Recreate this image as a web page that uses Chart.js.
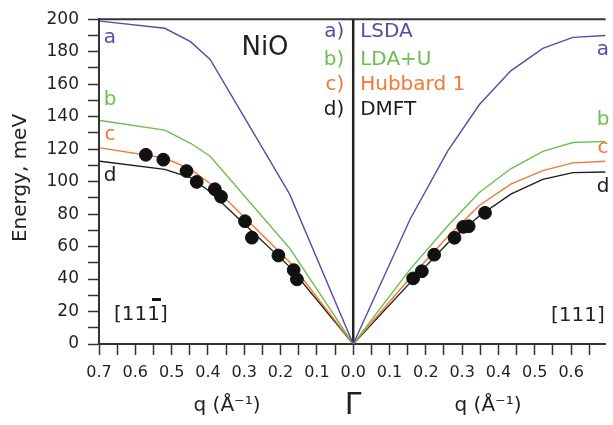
<!DOCTYPE html>
<html>
<head>
<meta charset="utf-8">
<script src="https://cdn.jsdelivr.net/npm/chart.js@4.4.1/dist/chart.umd.min.js"></script>
<style>
  html, body { margin: 0; padding: 0; background: #fff; }
  #wrap { width: 613px; height: 425px; }
</style>
</head>
<body>
<div id="wrap"><canvas id="nio" width="613" height="425"></canvas></div>
<script>
// NiO magnon dispersion along [11-1] (left) and [111] (right)
const qLeft  = [-0.697, -0.519, -0.448, -0.394, -0.175, 0];
const qRight = [0.157, 0.26, 0.347, 0.434, 0.522, 0.605, 0.695];

const lsdaLeft  = [198.8, 194.4, 186.2, 175.2, 92.3, 0];
const lsdaRight = [77, 118.8, 147.3, 168.2, 182.0, 188.8, 190.0];
const ldauLeft  = [137.6, 131.7, 123.6, 115.6, 59.0, 0];
const ldauRight = [46.1, 72.7, 93.3, 107.9, 118.6, 124.1, 124.8];
const hub1Left  = [120.8, 114.5, 107.5, 98.8, 50.5, 0];
const hub1Right = [40.8, 66, 85.3, 98.4, 106.8, 111.5, 112.5];
const dmftLeft  = [112.5, 107.5, 102.4, 93.8, 47.5, 0];
const dmftRight = [37.8, 62, 78.8, 92.3, 101.4, 105.5, 105.9];

// experimental points (black dots)
const expQ = [-0.571, -0.523, -0.459, -0.431, -0.381, -0.364, -0.298, -0.279, -0.206, -0.164, -0.155,
              0.165, 0.189, 0.223, 0.279, 0.303, 0.318, 0.363];
const expE = [116.5, 113.5, 106.5, 99.8, 95.3, 90.7, 75.6, 65.5, 54.5, 45.5, 39.8,
              40.4, 44.8, 55.0, 65.4, 72.1, 72.5, 80.8];

// x tick marks every 0.05 (in hundredths), labelled every 0.1 by |q|
const xTicksHundredths = [-70, -65, -60, -55, -50, -45, -40, -35, -30, -25, -20, -15, -10, -5, 0,
                          5, 10, 15, 20, 25, 30, 35, 40, 45, 50, 55, 60, 65];

const seriesNames  = ['LSDA', 'LDA+U', 'Hubbard 1', 'DMFT'];
const seriesTags   = ['a', 'b', 'c', 'd'];
const seriesColors = ['#5b49a6', '#6cbf4f', '#f37735', '#1d1d1b'];

const FONT = 'DejaVu Sans';
const INK = '#231f20';

function curve(left, right){
  const qs = qLeft.concat(qRight);
  const es = left.concat(right);
  return qs.map((q, i) => ({ x: q, y: es[i] }));
}

const curves = [
  curve(lsdaLeft, lsdaRight),
  curve(ldauLeft, ldauRight),
  curve(hub1Left, hub1Right),
  curve(dmftLeft, dmftRight)
];

const datasets = curves.map((pts, i) => ({
  label: seriesNames[i],
  data: pts,
  showLine: true,
  borderColor: seriesColors[i],
  borderWidth: 1.4,
  pointRadius: 0,
  fill: false,
  order: 2
}));
datasets.push({
  label: 'exp',
  data: expQ.map((q, i) => ({ x: q, y: expE[i] })),
  showLine: false,
  pointRadius: 6.4,
  pointBackgroundColor: '#111',
  pointBorderColor: '#111',
  order: 1
});

// frame lines + all the annotation text
const decor = {
  id: 'decor',
  beforeDatasetsDraw(chart){
    const { ctx, chartArea: a, scales: { x } } = chart;
    const x0 = x.getPixelForValue(0);
    ctx.save();
    ctx.strokeStyle = '#333';
    ctx.lineWidth = 2;
    ctx.beginPath();
    ctx.moveTo(a.left, a.top); ctx.lineTo(a.right, a.top);
    ctx.stroke();
    ctx.lineWidth = 2.5;
    ctx.strokeStyle = '#222';
    ctx.beginPath();
    ctx.moveTo(x0, a.top); ctx.lineTo(x0, a.bottom);
    ctx.stroke();
    ctx.restore();
  },
  afterDraw(chart){
    const { ctx, scales: { x } } = chart;
    const x0 = x.getPixelForValue(0);
    ctx.save();
    ctx.textBaseline = 'middle';

    // y title
    ctx.save();
    ctx.translate(21, 178);
    ctx.rotate(-Math.PI / 2);
    ctx.textAlign = 'center';
    ctx.fillStyle = INK;
    ctx.font = '20px "' + FONT + '"';
    ctx.fillText('Energy, meV', 0, 0);
    ctx.restore();

    // NiO
    ctx.fillStyle = INK;
    ctx.textAlign = 'center';
    ctx.font = '26px "' + FONT + '"';
    ctx.fillText('NiO', 265, 48);

    // legend block
    const legY = [32, 60, 85, 110];
    ctx.font = '20px "' + FONT + '"';
    seriesNames.forEach((n, i) => {
      ctx.fillStyle = seriesColors[i];
      ctx.textAlign = 'right';
      ctx.fillText(seriesTags[i] + ')', x0 - 9, legY[i]);
      ctx.textAlign = 'left';
      ctx.fillText(n, x0 + 7, legY[i]);
    });

    // curve tags at both ends
    const tagL = [38, 100, 135, 176];
    const tagR = [50, 120, 148, 187];
    ctx.textAlign = 'center';
    seriesTags.forEach((t, i) => {
      ctx.fillStyle = seriesColors[i];
      ctx.fillText(t, 110, tagL[i]);
      ctx.fillText(t, 603, tagR[i]);
    });

    // direction labels
    ctx.fillStyle = INK;
    ctx.textAlign = 'left';
    ctx.fillText('[111]', 114, 315);
    ctx.fillText('[111]', 551, 316);
    // bar over the last index of the left one
    ctx.fillStyle = '#111';
    ctx.fillRect(152, 298, 9, 3);

    // axis captions
    ctx.fillStyle = INK;
    ctx.textAlign = 'center';
    ctx.font = '20px "' + FONT + '"';
    ctx.fillText('q (\u00C5\u207B\u00B9)', 227, 406);
    ctx.fillText('q (\u00C5\u207B\u00B9)', 488, 406);
    ctx.font = '30px "' + FONT + '"';
    ctx.fillText('\u0393', x0, 406);
    ctx.restore();
  }
};

new Chart(document.getElementById('nio'), {
  type: 'scatter',
  data: { datasets },
  options: {
    responsive: false,
    animation: false,
    layout: { padding: { top: 14, left: 0, right: 0, bottom: 0 } },
    plugins: { legend: { display: false }, tooltip: { enabled: false } },
    scales: {
      x: {
        type: 'linear',
        min: -0.7,
        max: 0.695,
        afterFit(s){ s.height = 81; },
        afterBuildTicks(s){ s.ticks = xTicksHundredths.map(h => ({ value: h / 100 })); },
        border: { display: true, color: '#333', width: 2 },
        grid: { drawOnChartArea: false, drawTicks: true, tickLength: 11, tickColor: '#333', tickWidth: 1.5 },
        ticks: {
          autoSkip: false,
          maxRotation: 0,
          padding: 8,
          color: INK,
          font: { family: FONT, size: 16 },
          callback(v){
            const k = Math.round(v * 100);
            if (k % 10 !== 0) return '';
            return Math.abs(k / 100).toFixed(1);
          }
        }
      },
      y: {
        min: 0,
        max: 200,
        afterFit(s){ s.width = 99; },
        border: { display: true, color: '#333', width: 2 },
        grid: { drawOnChartArea: false, drawTicks: true, tickLength: 11, tickColor: '#333', tickWidth: 1.5 },
        ticks: {
          stepSize: 10,
          autoSkip: false,
          padding: 9,
          color: INK,
          font: { family: FONT, size: 17 },
          callback(v){ return v % 20 === 0 ? String(v) : ''; }
        }
      }
    }
  },
  plugins: [decor]
});
</script>
</body>
</html>
